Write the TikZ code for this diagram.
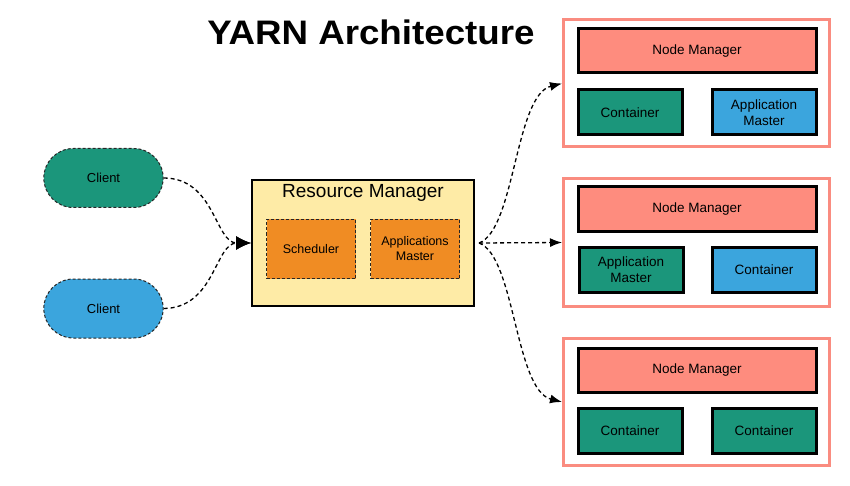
\documentclass[tikz,border=0pt]{standalone}
\usepackage{fontspec}
\setmainfont{Liberation Sans}
\usetikzlibrary{arrows.meta,shapes.misc}
\definecolor{cgreen}{HTML}{1B967B}
\definecolor{cblue}{HTML}{3BA5DD}
\definecolor{csalmon}{HTML}{FE8C7E}
\definecolor{cpink}{HTML}{FA8C80}
\definecolor{cyellow}{HTML}{FEEBA6}
\definecolor{corange}{HTML}{F08C23}
\tikzset{
  client/.style={rounded rectangle, draw=black!85, dashed, dash pattern=on 3pt off 2pt, line width=1pt, minimum width=126pt, minimum height=59pt, font=\fontsize{13}{15}\selectfont},
  inner/.style={rectangle, draw=black, line width=3pt, minimum width=104pt, minimum height=45pt, align=center, font=\fontsize{13.5}{16}\selectfont},
  nmbox/.style={inner, fill=csalmon, minimum width=238pt, minimum height=44pt},
  outerbox/.style={rectangle, draw=cpink, line width=3pt, minimum width=266pt, minimum height=127pt},
  rmsub/.style={rectangle, draw=black!85, dashed, dash pattern=on 3pt off 2pt, line width=1pt, fill=corange, minimum width=89pt, minimum height=59pt, align=center, font=\fontsize{12.5}{15}\selectfont},
  conn/.style={draw=black, line width=1.3pt, dash pattern=on 4pt off 3pt, -{Latex[length=12pt,width=9pt]}},
  connbig/.style={conn, -{Latex[length=15pt,width=14pt]}},
}
\begin{document}
\begin{tikzpicture}[x=1pt,y=-1pt]
\useasboundingbox (0,0) rectangle (850,486);
\node (title) at (371,32) {\scalebox{1.08}[1]{\fontsize{34}{40}\selectfont\bfseries YARN Architecture}};
% clients
\node[client, fill=cgreen] (cl1) at (103.5,178) {Client};
\node[client, fill=cblue] (cl2) at (103.5,308.5) {Client};
% resource manager
\node[rectangle, draw=black, line width=2pt, fill=cyellow, minimum width=222pt, minimum height=126pt] (rm) at (363,243) {};
\node[font=\fontsize{19}{22}\selectfont] (rmt) at (363,193) {Resource Manager};
\node[rmsub] (sch) at (311,249) {Scheduler};
\node[rmsub] (ams) at (415,249) {Applications\\Master};
% node managers
\node[outerbox] (b1) at (696.5,83.5) {};
\node[nmbox] (nm1) at (697,51) {Node Manager};
\node[inner, fill=cgreen] (c1) at (630,112.5) {Container};
\node[inner, fill=cblue] (a1) at (764,112.5) {Application\\Master};
\node[outerbox] (b2) at (696.5,242.5) {};
\node[nmbox] (nm2) at (697,209) {Node Manager};
\node[inner, fill=cgreen] (a2) at (631,270) {Application\\Master};
\node[inner, fill=cblue] (c2) at (764,270) {Container};
\node[outerbox] (b3) at (696.5,402) {};
\node[nmbox] (nm3) at (697,370) {Node Manager};
\node[inner, fill=cgreen] (c3) at (630,430.5) {Container};
\node[inner, fill=cgreen] (c4) at (764,430.5) {Container};
% connectors
\coordinate (hub) at (479,243);
\draw[connbig] (cl1.east) .. controls (215,178) and (215,243) .. (rm.west);
\draw[connbig] (cl2.east) .. controls (215,308) and (215,243) .. (rm.west);
\draw[conn] (hub) -- (b2.west);
\draw[conn] (hub) .. controls (515,230) and (515,95) .. (b1.west);
\draw[conn] (hub) .. controls (515,256) and (515,390) .. (b3.west);
\end{tikzpicture}
\end{document}
